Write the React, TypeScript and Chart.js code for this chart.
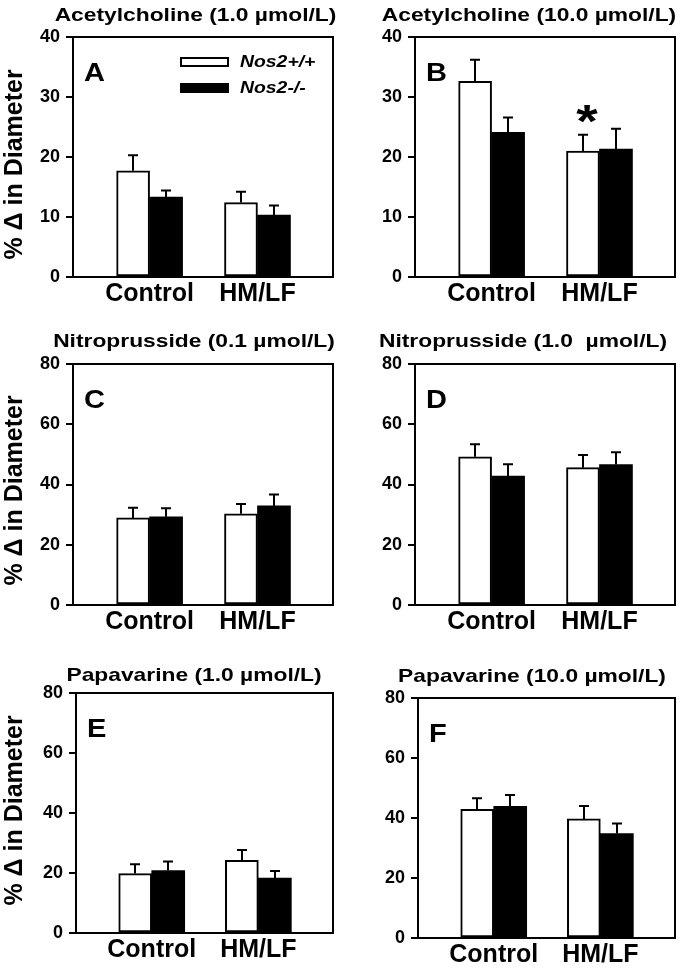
import React, { useEffect, useRef } from "react";
import { Chart, registerables } from "chart.js";

Chart.register(...registerables);

const FONT = "'Liberation Sans', Arial, Helvetica, sans-serif";

// ---------- data ----------
const categories = ["Control", "HM/LF"];
const seriesLabels = ["Nos2+/+", "Nos2-/-"];
const yAxisTitle = "% \u0394 in Diameter";

// A: Acetylcholine 1.0
const achLowWT = [17.7, 12.4];
const achLowWTErr = [2.6, 1.8];
const achLowKO = [13.3, 10.3];
const achLowKOErr = [1.1, 1.6];
// B: Acetylcholine 10.0
const achHighWT = [32.6, 21.0];
const achHighWTErr = [3.6, 2.7];
const achHighKO = [24.1, 21.3];
const achHighKOErr = [2.5, 3.4];
// C: Nitroprusside 0.1
const npLowWT = [28.9, 30.3];
const npLowWTErr = [3.4, 3.2];
const npLowKO = [29.3, 32.9];
const npLowKOErr = [2.8, 3.8];
// D: Nitroprusside 1.0
const npHighWT = [49.2, 45.6];
const npHighWTErr = [4.2, 4.2];
const npHighKO = [42.8, 46.6];
const npHighKOErr = [3.9, 4.1];
// E: Papavarine 1.0
const papLowWT = [19.8, 24.2];
const papLowWTErr = [3.1, 3.5];
const papLowKO = [20.8, 18.3];
const papLowKOErr = [3.0, 2.4];
// F: Papavarine 10.0
const papHighWT = [42.9, 39.7];
const papHighWTErr = [3.7, 4.3];
const papHighKO = [43.9, 34.8];
const papHighKOErr = [3.8, 3.4];

const achTicks = { max: 40, step: 10 };
const otherTicks = { max: 80, step: 20 };

// ---------- layout ----------
type Area = { l: number; r: number; t: number; b: number };
type PanelCfg = {
  letter: string;
  title: string;
  wt: number[];
  wtErr: number[];
  ko: number[];
  koErr: number[];
  yMax: number;
  yStep: number;
  showYTitle: boolean;
  showLegend: boolean;
  star?: { group: number; series: number };
  left: number;
  top: number;
  width: number;
  height: number;
  area: Area;
  titleX: number;
  titleY: number;
  yTitleY: number;
};

const panels: PanelCfg[] = [
  {
    letter: "A", title: "Acetylcholine (1.0 \u00b5mol/L)",
    wt: achLowWT, wtErr: achLowWTErr, ko: achLowKO, koErr: achLowKOErr,
    yMax: achTicks.max, yStep: achTicks.step, showYTitle: true, showLegend: true,
    left: 0, top: 0, width: 342, height: 320,
    area: { l: 73, r: 333, t: 37, b: 277 }, titleX: 195.5, titleY: 20.5, yTitleY: 164.5,
  },
  {
    letter: "B", title: "Acetylcholine (10.0 \u00b5mol/L)",
    wt: achHighWT, wtErr: achHighWTErr, ko: achHighKO, koErr: achHighKOErr,
    yMax: achTicks.max, yStep: achTicks.step, showYTitle: false, showLegend: false,
    star: { group: 1, series: 0 },
    left: 342, top: 0, width: 342, height: 320,
    area: { l: 73, r: 333, t: 37, b: 277 }, titleX: 187, titleY: 20.5, yTitleY: 164.5,
  },
  {
    letter: "C", title: "Nitroprusside (0.1 \u00b5mol/L)",
    wt: npLowWT, wtErr: npLowWTErr, ko: npLowKO, koErr: npLowKOErr,
    yMax: otherTicks.max, yStep: otherTicks.step, showYTitle: true, showLegend: false,
    left: 0, top: 320, width: 342, height: 320,
    area: { l: 73, r: 333, t: 44, b: 285 }, titleX: 194, titleY: 26.5, yTitleY: 170.5,
  },
  {
    letter: "D", title: "Nitroprusside (1.0  \u00b5mol/L)",
    wt: npHighWT, wtErr: npHighWTErr, ko: npHighKO, koErr: npHighKOErr,
    yMax: otherTicks.max, yStep: otherTicks.step, showYTitle: false, showLegend: false,
    left: 342, top: 320, width: 342, height: 320,
    area: { l: 73, r: 333, t: 44, b: 285 }, titleX: 181, titleY: 26.5, yTitleY: 170.5,
  },
  {
    letter: "E", title: "Papavarine (1.0 \u00b5mol/L)",
    wt: papLowWT, wtErr: papLowWTErr, ko: papLowKO, koErr: papLowKOErr,
    yMax: otherTicks.max, yStep: otherTicks.step, showYTitle: true, showLegend: false,
    left: 0, top: 640, width: 342, height: 330,
    area: { l: 76, r: 333, t: 53, b: 293 }, titleX: 194, titleY: 40.5, yTitleY: 170.5,
  },
  {
    letter: "F", title: "Papavarine (10.0 \u00b5mol/L)",
    wt: papHighWT, wtErr: papHighWTErr, ko: papHighKO, koErr: papHighKOErr,
    yMax: otherTicks.max, yStep: otherTicks.step, showYTitle: false, showLegend: false,
    left: 342, top: 640, width: 342, height: 330,
    area: { l: 76, r: 333, t: 58, b: 298 }, titleX: 190, titleY: 41.5, yTitleY: 170.5,
  },
];

function drawStretched(
  ctx: CanvasRenderingContext2D, text: string, x: number, y: number,
  font: string, sx: number, align: CanvasTextAlign
) {
  ctx.save();
  ctx.font = font;
  ctx.textAlign = align;
  ctx.textBaseline = "alphabetic";
  ctx.fillStyle = "#000";
  ctx.translate(x, y);
  ctx.scale(sx, 1);
  ctx.fillText(text, 0, 0);
  ctx.restore();
}

function makeDecorPlugin(cfg: PanelCfg) {
  return {
    id: "panelDecor",
    afterDatasetsDraw(chart: any) {
      const ctx: CanvasRenderingContext2D = chart.ctx;
      const ca = chart.chartArea;
      const yScale = chart.scales.y;
      ctx.save();

      // error bars (upper only)
      const errs = [cfg.wtErr, cfg.koErr];
      const means = [cfg.wt, cfg.ko];
      ctx.strokeStyle = "#000";
      ctx.lineWidth = 2;
      for (let d = 0; d < 2; d++) {
        const meta = chart.getDatasetMeta(d);
        meta.data.forEach((el: any, i: number) => {
          const x = Math.round(el.x);
          const yBar = el.y;
          const yTop = yScale.getPixelForValue(means[d][i] + errs[d][i]);
          ctx.beginPath();
          ctx.moveTo(x, yBar);
          ctx.lineTo(x, yTop);
          ctx.moveTo(x - 5, yTop);
          ctx.lineTo(x + 5, yTop);
          ctx.stroke();
        });
      }

      // plot frame
      ctx.lineWidth = 2;
      ctx.strokeRect(ca.left, ca.top, ca.right - ca.left, ca.bottom - ca.top);

      // title
      drawStretched(ctx, cfg.title, cfg.titleX, cfg.titleY, `bold 19px ${FONT}`, 1.2, "center");

      // panel letter
      drawStretched(ctx, cfg.letter, ca.left + 11, ca.top + 44, `bold 25px ${FONT}`, 1.16, "left");

      // y axis title
      if (cfg.showYTitle) {
        ctx.save();
        ctx.font = `bold 25px ${FONT}`;
        ctx.fillStyle = "#000";
        ctx.textAlign = "center";
        ctx.textBaseline = "alphabetic";
        ctx.translate(21.5, cfg.yTitleY);
        ctx.rotate(-Math.PI / 2);
        ctx.fillText(yAxisTitle, 0, 0);
        ctx.restore();
      }

      // legend
      if (cfg.showLegend) {
        const ds = chart.data.datasets;
        const rows = [ca.top + 20, ca.top + 46];
        ds.forEach((d: any, i: number) => {
          const by = rows[i];
          ctx.fillStyle = d.backgroundColor;
          ctx.fillRect(ca.left + 107, by, 49, 10);
          ctx.strokeStyle = "#000";
          ctx.lineWidth = 2;
          ctx.strokeRect(ca.left + 108, by + 1, 47, 8);
          drawStretched(ctx, d.label, ca.left + 167, by + 10, `italic bold 17px ${FONT}`, 1.14, "left");
        });
      }

      // significance star
      if (cfg.star) {
        const meta = chart.getDatasetMeta(cfg.star.series);
        const el: any = meta.data[cfg.star.group];
        const m = (cfg.star.series === 0 ? cfg.wt : cfg.ko)[cfg.star.group];
        const e = (cfg.star.series === 0 ? cfg.wtErr : cfg.koErr)[cfg.star.group];
        const yTop = yScale.getPixelForValue(m + e);
        const cy = yTop - 21;
        ctx.save();
        ctx.font = `bold 46px ${FONT}`;
        const tm = ctx.measureText("*");
        const a = tm.actualBoundingBoxAscent;
        const dsc = tm.actualBoundingBoxDescent;
        const baseline = cy - (dsc - a) / 2;
        ctx.restore();
        drawStretched(ctx, "*", el.x + 4, baseline, `bold 46px ${FONT}`, 1.2, "center");
      }

      ctx.restore();
    },
  };
}

function Panel({ cfg }: { cfg: PanelCfg }) {
  const ref = useRef<HTMLCanvasElement | null>(null);
  useEffect(() => {
    if (!ref.current) return;
    const chart = new Chart(ref.current, {
      type: "bar",
      data: {
        datasets: [
          {
            label: seriesLabels[0],
            data: cfg.wt.map((v, i) => ({ x: i + 1, y: v })),
            backgroundColor: "#ffffff",
            borderColor: "#000000",
            borderWidth: 2,
            borderSkipped: false,
            barThickness: 33,
          },
          {
            label: seriesLabels[1],
            data: cfg.ko.map((v, i) => ({ x: i + 1, y: v })),
            backgroundColor: "#000000",
            borderColor: "#000000",
            borderWidth: 0,
            barThickness: 33,
          },
        ],
      } as any,
      options: {
        responsive: false,
        animation: false,
        devicePixelRatio: 1,
        layout: {
          padding: { top: cfg.area.t, right: cfg.width - cfg.area.r, left: 0, bottom: 0 },
        },
        plugins: {
          legend: { display: false },
          tooltip: { enabled: false },
          title: { display: false },
        },
        scales: {
          x: {
            type: "linear",
            min: 0.29,
            max: 2.7,
            offset: false,
            afterBuildTicks: (s: any) => {
              s.ticks = categories.map((_, i) => ({ value: i + 1 }));
            },
            afterFit: (s: any) => {
              s.height = cfg.height - cfg.area.b;
            },
            grid: { display: false, drawTicks: false },
            border: { display: true, color: "#000", width: 2 },
            ticks: {
              autoSkip: false,
              maxRotation: 0,
              padding: 2,
              color: "#000",
              font: { family: FONT, size: 25, weight: "bold" },
              callback: (v: any) => categories[Math.round(Number(v)) - 1] ?? "",
            },
          },
          y: {
            min: 0,
            max: cfg.yMax,
            afterFit: (s: any) => {
              s.width = cfg.area.l;
            },
            ticks: {
              stepSize: cfg.yStep,
              padding: 6,
              color: "#000",
              font: { family: FONT, size: 18, weight: "bold" },
            },
            grid: {
              drawOnChartArea: false,
              drawTicks: true,
              tickLength: 7,
              tickWidth: 2,
              tickColor: "#000",
              color: "#000",
              lineWidth: 2,
            },
            border: { display: true, color: "#000", width: 2 },
          },
        },
      } as any,
      plugins: [makeDecorPlugin(cfg)],
    });
    return () => chart.destroy();
  }, [cfg]);

  return (
    <div
      style={{
        position: "absolute",
        left: cfg.left,
        top: cfg.top,
        width: cfg.width,
        height: cfg.height,
      }}
    >
      <canvas ref={ref} width={cfg.width} height={cfg.height} style={{ display: "block" }} />
    </div>
  );
}

export default function App() {
  return (
    <div
      style={{
        position: "absolute",
        left: 0,
        top: 0,
        width: 684,
        height: 970,
        background: "#fff",
      }}
    >
      {panels.map((p) => (
        <Panel key={p.letter} cfg={p} />
      ))}
    </div>
  );
}
